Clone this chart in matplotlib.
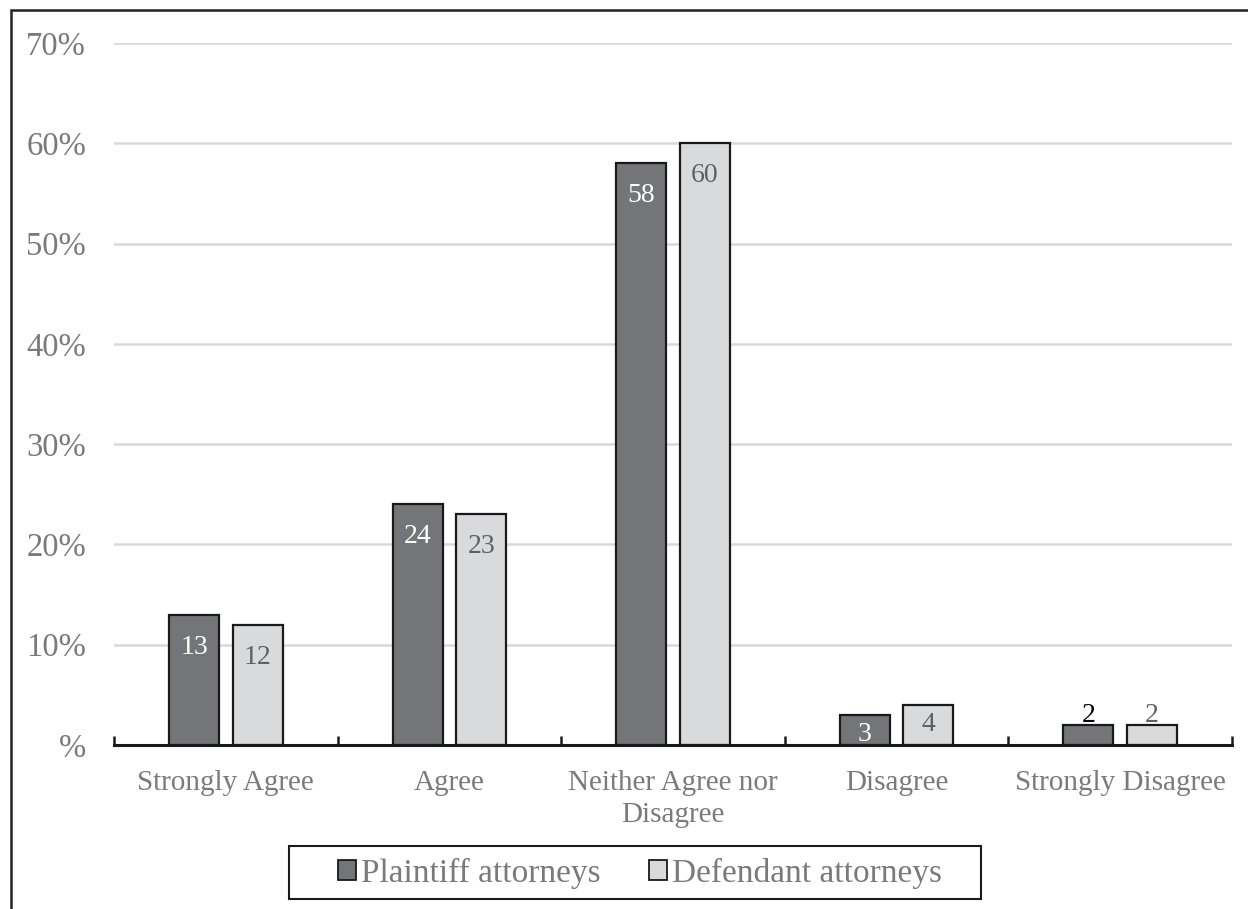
import matplotlib
matplotlib.use("Agg")
import matplotlib.pyplot as plt
from matplotlib.patches import Rectangle, Patch
import numpy as np

categories = ["Strongly Agree", "Agree", "Neither Agree nor\nDisagree", "Disagree", "Strongly Disagree"]
plaintiff = [13, 24, 58, 3, 2]
defendant = [12, 23, 60, 4, 2]
series_names = ["Plaintiff attorneys", "Defendant attorneys"]
y_ticks = [0, 10, 20, 30, 40, 50, 60, 70]
y_tick_labels = ["%", "10%", "20%", "30%", "40%", "50%", "60%", "70%"]

dark = "#747579"
light = "#D9DADC"
text_gray = "#7A7A7A"
label_gray = "#606060"
edge = "#1a1a1a"

plt.rcParams["font.family"] = ["Liberation Serif", "DejaVu Serif"]

W, H = 1248, 909
fig = plt.figure(figsize=(W / 100, H / 100), dpi=100)
ax = fig.add_axes([114 / W, 1 - 745 / H, (1232 - 114) / W, (745 - 43) / H])

x = np.arange(len(categories))
w = 0.224
off = 0.142
b1 = ax.bar(x - off, plaintiff, w, color=dark, edgecolor=edge, linewidth=1.6, zorder=3)
b2 = ax.bar(x + off, defendant, w, color=light, edgecolor=edge, linewidth=1.6, zorder=3)

ax.set_xlim(-0.5, len(categories) - 0.5)
ax.set_ylim(0, 70)
ax.set_yticks(y_ticks)
ax.set_yticklabels(y_tick_labels, fontsize=23.5, color=text_gray)
ax.tick_params(axis="y", length=0, pad=20)
ax.yaxis.grid(True, color="#D9D9D9", linewidth=1.8, zorder=0)
ax.set_axisbelow(True)

ax.set_xticks(x)
ax.set_xticklabels(categories, fontsize=21, color=text_gray, linespacing=1.3)
ax.tick_params(axis="x", which="major", length=0, pad=18)
ax.set_xticks(np.arange(-0.5, len(categories)), minor=True)
ax.tick_params(axis="x", which="minor", direction="in", length=6.5, width=1.8, color=edge)

for s in ["top", "right", "left"]:
    ax.spines[s].set_visible(False)
ax.spines["bottom"].set_linewidth(2.2)
ax.spines["bottom"].set_color(edge)
ax.spines["bottom"].set_zorder(4)

def place_labels(bars, values, color_big, color_small):
    for rect, v in zip(bars, values):
        cx = rect.get_x() + rect.get_width() / 2
        if v >= 5:
            ax.annotate(f"{v}", (cx, v), xytext=(0, -23.5), textcoords="offset points",
                        ha="center", va="center", fontsize=20, color=color_big, zorder=5)
        elif v >= 3:
            ax.annotate(f"{v}", (cx, v), xytext=(0, -14), textcoords="offset points",
                        ha="center", va="center", fontsize=20, color=color_big, zorder=5)
        else:
            ax.annotate(f"{v}", (cx, v), xytext=(0, -2), textcoords="offset points",
                        ha="center", va="bottom", fontsize=20, color=color_small, zorder=5)

place_labels(b1, plaintiff, "white", "black")
place_labels(b2, defendant, label_gray, label_gray)

handles = [Patch(facecolor=dark, edgecolor=edge, linewidth=1.3),
           Patch(facecolor=light, edgecolor=edge, linewidth=1.3)]
leg = fig.legend(handles, series_names, loc="center", bbox_to_anchor=(640 / W, 1 - 873 / H),
                 ncol=2, fontsize=24, frameon=False,
                 handlelength=0.55, handleheight=0.55, handletextpad=0.15, columnspacing=1.45,
                 borderpad=0.0, borderaxespad=0)
for t in leg.get_texts():
    t.set_color(text_gray)

# legend box
fig.add_artist(Rectangle((289 / W, 1 - 899 / H), (981 - 289) / W, (899 - 846) / H,
                         transform=fig.transFigure, fill=False, edgecolor=edge, linewidth=1.5))

# outer frame (left and top edges visible)
fig.add_artist(Rectangle((11 / W, -0.05), 1.2, 1 - 10 / H + 0.05, transform=fig.transFigure,
                         fill=False, edgecolor="#222222", linewidth=1.8))

fig.savefig("out.png", dpi=100)
